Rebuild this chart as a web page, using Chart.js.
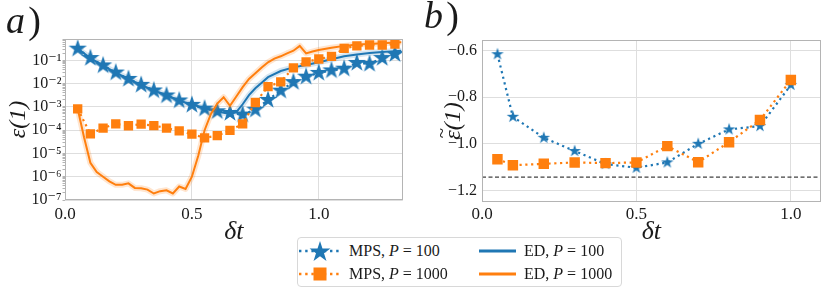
<!DOCTYPE html>
<html><head><meta charset="utf-8">
<script src="https://cdn.jsdelivr.net/npm/chart.js@4.4.1/dist/chart.umd.min.js"></script>
<style>
html,body{margin:0;padding:0;background:#fff;}
body{width:830px;height:288px;overflow:hidden;position:relative;font-family:"Liberation Serif","DejaVu Serif",serif;color:#1a1a1a;}
#ca{position:absolute;left:0;top:0;}
#cb{position:absolute;left:415px;top:0;}
.plabel{position:absolute;font-size:38px;line-height:1;white-space:nowrap;}
#legend{position:absolute;left:297px;top:237px;width:325px;height:50px;border:1px solid #d8d8d8;border-radius:4px;box-sizing:border-box;background:#fff;}
#legend canvas{position:absolute;}
#legend .lt{position:absolute;font-size:16px;line-height:1;white-space:nowrap;}
</style>
</head><body>
<canvas id="ca" width="415" height="250"></canvas>
<canvas id="cb" width="415" height="250"></canvas>
<div class="plabel" style="left:6px;top:1px;"><i>a</i>&#8202;)</div>
<div class="plabel" style="left:424px;top:-4px;"><i>b</i>&#8202;)</div>
<div id="legend">
  <canvas id="lg1" width="44" height="24" style="left:0px;top:1px;"></canvas>
  <span class="lt" style="left:51px;top:5px;">MPS, <i>P</i> = 100</span>
  <canvas id="lg2" width="44" height="24" style="left:0px;top:24px;"></canvas>
  <span class="lt" style="left:51px;top:28px;">MPS, <i>P</i> = 1000</span>
  <canvas id="lg3" width="40" height="24" style="left:180px;top:1px;"></canvas>
  <span class="lt" style="left:226px;top:5px;">ED, <i>P</i> = 100</span>
  <canvas id="lg4" width="40" height="24" style="left:180px;top:24px;"></canvas>
  <span class="lt" style="left:226px;top:28px;">ED, <i>P</i> = 1000</span>
</div>
<script>
// ---------------- data ----------------
// Panel a: MPS points
const mpsXA = [0.05,0.10,0.15,0.20,0.25,0.30,0.35,0.40,0.45,0.50,0.55,0.60,0.65,0.70,0.75,0.80,0.85,0.90,0.95,1.00,1.05,1.10,1.15,1.20,1.25,1.30];
const mpsP100A = [3.2e-1,1.26e-1,6.1e-2,3.0e-2,1.6e-2,8.9e-3,5.1e-3,3.1e-3,1.9e-3,1.23e-3,8.5e-4,6.5e-4,5.5e-4,4.7e-4,7.6e-4,2.0e-3,5.0e-3,1.17e-2,2.0e-2,2.9e-2,3.7e-2,4.4e-2,7.8e-2,7.1e-2,1.26e-1,1.86e-1];
const mpsP1000A = [8.3e-4,6.9e-5,1.23e-4,1.86e-4,1.55e-4,1.82e-4,1.58e-4,1.23e-4,9.3e-5,6.8e-5,4.7e-5,5.8e-5,9.8e-5,1.86e-4,1.55e-3,7.4e-3,1.2e-2,4.8e-2,8.7e-2,1.15e-1,1.48e-1,3.3e-1,4.2e-1,4.6e-1,4.6e-1,5.0e-1];
// Panel a: ED curves
const edXA100 = [0.05,0.1,0.15,0.2,0.25,0.3,0.35,0.4,0.45,0.5,0.55,0.6,0.65,0.675,0.7,0.725,0.75,0.775,0.8,0.85,0.9,0.95,1.0,1.05,1.1,1.15,1.2,1.25,1.3,1.325];
const edP100A = [3.2e-1,1.26e-1,6.0e-2,3.0e-2,1.6e-2,8.9e-3,5.1e-3,3.2e-3,1.9e-3,1.26e-3,8.9e-4,6.3e-4,5.0e-4,6.0e-4,1.3e-3,3.2e-3,6.3e-3,1.1e-2,1.9e-2,3.5e-2,5.0e-2,6.3e-2,8.3e-2,1.12e-1,1.5e-1,1.8e-1,2.1e-1,2.3e-1,2.5e-1,2.6e-1];
const edXA1000 = [0.05,0.075,0.1,0.125,0.15,0.175,0.2,0.225,0.25,0.275,0.3,0.325,0.35,0.375,0.4,0.425,0.45,0.475,0.5,0.525,0.55,0.575,0.6,0.625,0.65,0.675,0.7,0.725,0.75,0.775,0.8,0.825,0.85,0.875,0.9,0.925,0.95,0.975,1.0,1.05,1.1,1.15,1.2,1.25,1.3,1.325];
const edP1000A = [8.3e-4,5.0e-5,4.0e-6,1.6e-6,1.0e-6,6.3e-7,4.5e-7,4.5e-7,5.2e-7,3.3e-7,3.2e-7,2.8e-7,1.9e-7,2.4e-7,2.6e-7,1.9e-7,3.8e-7,3.0e-7,1.0e-6,7.9e-6,1.0e-4,5.0e-4,1.4e-3,2.6e-3,1.12e-3,2.8e-3,7.1e-3,1.6e-2,2.8e-2,5.0e-2,8.3e-2,1.2e-1,1.5e-1,2.0e-1,2.6e-1,4.2e-1,2.0e-1,2.4e-1,2.8e-1,3.5e-1,4.2e-1,4.8e-1,5.1e-1,5.5e-1,5.8e-1,6.0e-1];
const xTicksA = [0.0,0.5,1.0];
const yTicksA = [1e-7,1e-6,1e-5,1e-4,1e-3,1e-2,1e-1];
const yTickLabelsA = ['10⁻⁷','10⁻⁶','10⁻⁵','10⁻⁴','10⁻³','10⁻²','10⁻¹'];

// Panel b
const mpsXB = [0.05,0.1,0.2,0.3,0.4,0.5,0.6,0.7,0.8,0.9,1.0];
const mpsP100B = [-0.615,-0.884,-0.974,-1.031,-1.087,-1.103,-1.080,-1.000,-0.938,-0.924,-0.747];
const mpsP1000B = [-1.066,-1.092,-1.086,-1.080,-1.083,-1.080,-1.010,-1.079,-0.993,-0.898,-0.726];
const exactB = -1.143;
const xTicksB = [0.0,0.5,1.0];
const yTicksB = [-1.2,-1.0,-0.8,-0.6];
const yTickLabelsB = ['−1.2','−1.0','−0.8','−0.6'];

// ---------------- style ----------------
const BLUE = '#1f77b4', ORANGE = '#ff7f0e';
const FONT = '"Liberation Serif","DejaVu Serif",serif';
const GRID = '#dedede', SPINE = '#b4b4b4', TXT = '#1a1a1a';

function starImg(R, color) {
  const s = Math.ceil(2 * R + 2);
  const c = document.createElement('canvas'); c.width = s; c.height = s;
  const g = c.getContext('2d');
  const cx = s / 2, cy = s / 2, r = R * 0.381966;
  g.beginPath();
  for (let k = 0; k < 10; k++) {
    const a = -Math.PI / 2 + k * Math.PI / 5;
    const rr = (k % 2 === 0) ? R : r;
    const px = cx + rr * Math.cos(a), py = cy + rr * Math.sin(a);
    k === 0 ? g.moveTo(px, py) : g.lineTo(px, py);
  }
  g.closePath(); g.fillStyle = color; g.fill();
  return c;
}
const pts = (xs, ys) => xs.map((x, i) => ({x: x, y: ys[i]}));

const framePlugin = {
  id: 'frame',
  afterDatasetsDraw(chart) {
    const {ctx, chartArea: a} = chart;
    ctx.save();
    ctx.strokeStyle = SPINE; ctx.lineWidth = 1;
    ctx.strokeRect(Math.round(a.left) + 0.5, Math.round(a.top) + 0.5, Math.round(a.right - a.left) - 1, Math.round(a.bottom - a.top) - 1);
    ctx.restore();
  }
};

// puts a tilde over the epsilon of the y-axis title of panel b
const tildePlugin = {
  id: 'tilde',
  afterDraw(chart) {
    const s = chart.scales.y, t = s.options.title;
    const size = t.font.size, lh = size * 1.2;
    const cx = s.left + t.padding.top + lh / 2, cy = (s.top + s.bottom) / 2;
    const ctx = chart.ctx;
    ctx.save();
    ctx.font = 'italic ' + size + 'px ' + FONT;
    const w = ctx.measureText(t.text).width, we = ctx.measureText('ε').width;
    ctx.translate(cx, cy); ctx.rotate(-Math.PI / 2);
    ctx.fillStyle = TXT; ctx.textAlign = 'center'; ctx.textBaseline = 'middle';
    ctx.font = size * 0.8 + 'px ' + FONT;
    ctx.fillText('~', -w / 2 + we / 2 + 2, -size * 0.42);
    ctx.restore();
  }
};

Chart.defaults.font.family = FONT;
Chart.defaults.color = TXT;

const isMajor = v => Math.abs(Math.log10(v) - Math.round(Math.log10(v))) < 1e-6;

// ---------------- panel a ----------------
new Chart(document.getElementById('ca'), {
  type: 'line',
  data: {
    datasets: [
      {data: pts(mpsXA, mpsP1000A), order: 1, borderColor: ORANGE, borderWidth: 2.2, borderDash: [2.2, 3.6],
       pointStyle: 'rect', pointRadius: 6.6, pointBackgroundColor: ORANGE, pointBorderWidth: 0},
      {data: pts(edXA1000, edP1000A), order: 2, borderColor: ORANGE, borderWidth: 2, pointRadius: 0, tension: 0},
      {data: pts(edXA1000, edP1000A), order: 3, borderColor: 'rgba(255,127,14,0.2)', borderWidth: 6, pointRadius: 0, borderJoinStyle: 'round'},
      {data: pts(mpsXA, mpsP100A), order: 4, borderColor: BLUE, borderWidth: 2.2, borderDash: [2.2, 3.6],
       pointStyle: starImg(9.6, BLUE), pointRadius: 10},
      {data: pts(edXA100, edP100A), order: 5, borderColor: BLUE, borderWidth: 2, pointRadius: 0},
      {data: pts(edXA100, edP100A), order: 6, borderColor: 'rgba(31,119,180,0.18)', borderWidth: 6, pointRadius: 0, borderJoinStyle: 'round'}
    ]
  },
  options: {
    responsive: false, animation: false, devicePixelRatio: 1,
    layout: {padding: {top: 39, right: 11, left: 0, bottom: 0}},
    plugins: {legend: {display: false}, tooltip: {enabled: false}},
    scales: {
      x: {
        type: 'linear', min: 0, max: 1.331,
        afterBuildTicks: s => { s.ticks = xTicksA.map(v => ({value: v})); },
        afterFit: s => { s.height = 50; },
        ticks: {callback: v => v.toFixed(1), font: {size: 17}, color: TXT, padding: 4, maxRotation: 0, autoSkip: false},
        grid: {color: GRID, drawTicks: false, lineWidth: 1},
        border: {display: false},
        title: {display: true, text: 'δt', font: {size: 26, style: 'italic'}, color: TXT, padding: {top: 0, bottom: 2}}
      },
      y: {
        type: 'logarithmic', min: 1e-7, max: 0.83,
        afterBuildTicks: s => {
          const t = [];
          for (let e = -7; e <= -1; e++) {
            for (let m = 1; m <= 9; m++) {
              const v = m * Math.pow(10, e);
              if (v >= 1e-7 && v <= 0.83) t.push({value: v});
            }
          }
          s.ticks = t;
        },
        afterFit: s => { s.width = 65; },
        ticks: {
          callback: v => { const i = yTicksA.findIndex(t => Math.abs(t - v) / t < 1e-6); return i >= 0 ? yTickLabelsA[i] : ''; },
          font: {size: 16}, color: TXT, padding: 1, autoSkip: false
        },
        grid: {color: c => (c.tick && isMajor(c.tick.value)) ? GRID : 'rgba(0,0,0,0)', tickColor: SPINE, tickLength: 2.5, lineWidth: 1},
        border: {display: false},
        title: {display: true, text: 'ε(1)', font: {size: 24, style: 'italic'}, color: TXT, padding: {top: 4, bottom: 0}}
      }
    }
  },
  plugins: [framePlugin]
});

// ---------------- panel b ----------------
new Chart(document.getElementById('cb'), {
  type: 'line',
  data: {
    datasets: [
      {data: pts(mpsXB, mpsP1000B), order: 1, borderColor: ORANGE, borderWidth: 2.2, borderDash: [2.2, 3.6],
       pointStyle: 'rect', pointRadius: 7.4, pointBackgroundColor: ORANGE, pointBorderWidth: 0},
      {data: pts(mpsXB, mpsP100B), order: 2, borderColor: BLUE, borderWidth: 2.2, borderDash: [2.2, 3.6],
       pointStyle: starImg(6.6, BLUE), pointRadius: 7},
      {data: [{x: 0, y: exactB}, {x: 1.097, y: exactB}], order: 3, borderColor: '#111', borderWidth: 1, borderDash: [4, 2.5], pointRadius: 0}
    ]
  },
  options: {
    responsive: false, animation: false, devicePixelRatio: 1,
    layout: {padding: {top: 40, right: 9, left: 0, bottom: 0}},
    plugins: {legend: {display: false}, tooltip: {enabled: false}},
    scales: {
      x: {
        type: 'linear', min: 0, max: 1.097,
        afterBuildTicks: s => { s.ticks = xTicksB.map(v => ({value: v})); },
        afterFit: s => { s.height = 48; },
        ticks: {callback: v => v.toFixed(1), font: {size: 17}, color: TXT, padding: 2, maxRotation: 0, autoSkip: false},
        grid: {color: GRID, drawTicks: false},
        border: {display: false},
        title: {display: true, text: 'δt', font: {size: 26, style: 'italic'}, color: TXT, padding: {top: 0, bottom: 2}}
      },
      y: {
        type: 'linear', min: -1.25, max: -0.554,
        afterBuildTicks: s => { s.ticks = yTicksB.map(v => ({value: v})); },
        afterFit: s => { s.width = 67; },
        ticks: {
          callback: v => { const i = yTicksB.findIndex(t => Math.abs(t - v) < 1e-6); return i >= 0 ? yTickLabelsB[i] : ''; },
          font: {size: 16}, color: TXT, padding: 5, autoSkip: false
        },
        grid: {color: GRID, drawTicks: false},
        border: {display: false},
        title: {display: true, text: 'ε(1)', font: {size: 24, style: 'italic'}, color: TXT, padding: {top: 24, bottom: 0}}
      }
    }
  },
  plugins: [framePlugin, tildePlugin]
});

// ---------------- legend glyphs ----------------
function legendGlyph(id, color, marker, dotted) {
  const c = document.getElementById(id), g = c.getContext('2d');
  const cy = 12;
  g.strokeStyle = color; g.lineWidth = dotted ? 2.4 : 2.8;
  if (dotted) g.setLineDash([2.4, 3.8]);
  g.beginPath(); g.moveTo(1, cy); g.lineTo(c.width - 2, cy); g.stroke();
  g.setLineDash([]);
  if (marker === 'star') {
    const img = starImg(11, color);
    g.drawImage(img, c.width / 2 - img.width / 2, cy - img.height / 2 + 1);
  } else if (marker === 'square') {
    g.fillStyle = color; g.fillRect(c.width / 2 - 6.5, cy - 6.5, 13, 13);
  }
}
legendGlyph('lg1', BLUE, 'star', true);
legendGlyph('lg2', ORANGE, 'square', true);
legendGlyph('lg3', BLUE, null, false);
legendGlyph('lg4', ORANGE, null, false);
</script>
</body></html>
